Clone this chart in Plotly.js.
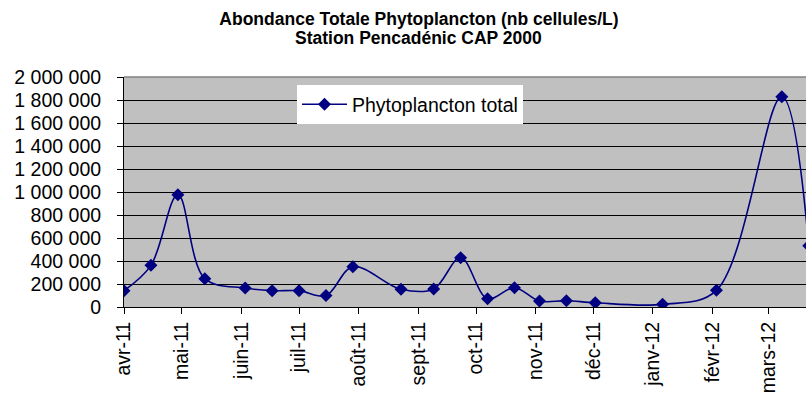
<!DOCTYPE html>
<html>
<head>
<meta charset="utf-8">
<script src="https://cdn.plot.ly/plotly-3.0.1.min.js"></script>
<style>
html, body { margin: 0; padding: 0; overflow: hidden; background: #fff; }
#chart { width: 840px; height: 403px; }
</style>
</head>
<body>
<div id="chart"></div>
<script>
// Sampling dates and total phytoplankton abundance (cells/L)
const sampleDates = [
  '2011-04-01', '2011-04-15', '2011-04-29', '2011-05-13', '2011-06-03',
  '2011-06-17', '2011-07-01', '2011-07-15', '2011-07-29', '2011-08-23',
  '2011-09-09', '2011-09-23', '2011-10-07', '2011-10-21', '2011-11-03',
  '2011-11-17', '2011-12-02', '2012-01-06', '2012-02-03', '2012-03-08',
  '2012-03-22'
];
const phytoTotal = [
  142000, 362000, 977000, 246000, 165000,
  142000, 142000, 100000, 350000, 154000,
  157000, 429000, 72000, 168000, 52000,
  55000, 37000, 23000, 145000, 1829000,
  533000
];
const monthTicks = [
  '2011-04-01', '2011-05-01', '2011-06-01', '2011-07-01', '2011-08-01', '2011-09-01',
  '2011-10-01', '2011-11-01', '2011-12-01', '2012-01-01', '2012-02-01', '2012-03-01'
];
const monthLabels = [
  'avr-11', 'mai-11', 'juin-11', 'juil-11', 'août-11', 'sept-11',
  'oct-11', 'nov-11', 'déc-11', 'janv-12', 'févr-12', 'mars-12'
];
const seriesName = 'Phytoplancton total';
const titleLine1 = 'Abondance Totale Phytoplancton (nb cellules/L)';
const titleLine2 = 'Station Pencadénic CAP 2000';

const FONT = 'Arial, "Liberation Sans", sans-serif';

const trace = {
  x: sampleDates,
  y: phytoTotal,
  type: 'scatter',
  mode: 'lines+markers',
  name: seriesName,
  line: { color: '#000080', width: 1.6, shape: 'spline', smoothing: 1 },
  marker: { symbol: 'diamond', size: 10, color: '#000080' },
  cliponaxis: true
};

const layout = {
  width: 840,
  height: 403,
  margin: { l: 124, r: 12, t: 77, b: 96 },
  paper_bgcolor: '#ffffff',
  plot_bgcolor: '#c0c0c0',
  separators: ', ',
  font: { family: FONT, color: '#000000', size: 19.5 },
  title: {
    text: titleLine1,
    font: { family: FONT, size: 17.5, color: '#000000', weight: 'bold' },
    x: 419 / 840,
    xref: 'container',
    xanchor: 'center',
    y: 1 - 13 / 403,
    yref: 'container',
    yanchor: 'top'
  },
  annotations: [{
    text: titleLine2,
    xref: 'paper', yref: 'paper',
    x: (418 - 124) / 704, xanchor: 'center',
    y: (307 - 38) / 230, yanchor: 'middle',
    showarrow: false,
    font: { family: FONT, size: 17.5, color: '#000000', weight: 'bold' }
  }],
  xaxis: {
    type: 'date',
    range: ['2011-04-01', '2012-04-01'],
    tickmode: 'array',
    tickvals: monthTicks,
    ticktext: monthLabels,
    tickangle: -90,
    ticks: 'outside',
    ticklen: 6,
    tickcolor: '#000',
    tickwidth: 1,
    showline: true,
    linecolor: '#000',
    linewidth: 1,
    showgrid: false,
    zeroline: false,
    tickfont: { family: FONT, size: 19.5, color: '#000' },
    fixedrange: true
  },
  yaxis: {
    range: [0, 2000000],
    dtick: 200000,
    tick0: 0,
    tickformat: ',d',
    ticks: 'outside',
    ticklen: 6,
    tickcolor: '#000',
    showline: true,
    linecolor: '#000',
    linewidth: 1,
    showgrid: true,
    gridcolor: '#000000',
    gridwidth: 1,
    zeroline: false,
    ticklabelstandoff: 12,
    tickfont: { family: FONT, size: 19.5, color: '#000' },
    fixedrange: true
  },
  showlegend: true,
  legend: {
    x: (297 - 124) / 704,
    xanchor: 'left',
    y: (307 - 85) / 230,
    yanchor: 'top',
    bgcolor: '#ffffff',
    borderwidth: 0,
    font: { family: FONT, size: 19.5, color: '#000' },
    itemwidth: 45
  },
  shapes: [{
    type: 'line', xref: 'paper', yref: 'paper',
    x0: 0, x1: 1, y0: 1, y1: 1,
    line: { color: '#808080', width: 1.5 }
  }]
};

Plotly.newPlot('chart', [trace], layout, { displayModeBar: false, staticPlot: true });
</script>
</body>
</html>
